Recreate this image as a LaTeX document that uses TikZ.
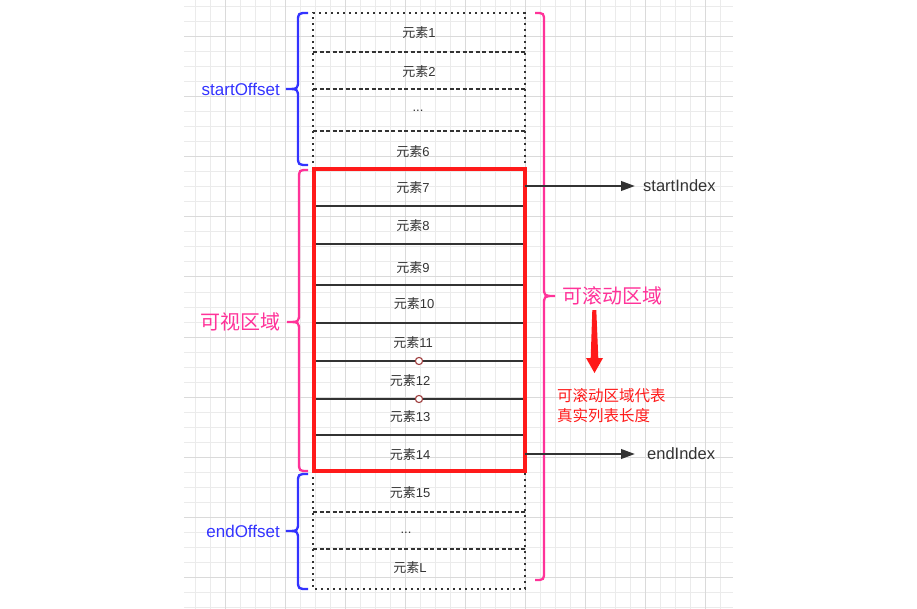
\documentclass[tikz,border=0pt]{standalone}
\usepackage{fontspec}
\setmainfont{Liberation Sans}
\newfontfamily\cjk{Noto Sans CJK SC}
\usetikzlibrary{arrows.meta}

\definecolor{ink}{HTML}{333333}
\definecolor{gridminor}{HTML}{EBEBEB}
\definecolor{gridmajor}{HTML}{DADADA}
\definecolor{offblue}{HTML}{3333FF}
\definecolor{zonepink}{HTML}{FF3399}
\definecolor{boxred}{HTML}{FF1A1A}
\definecolor{knot}{HTML}{A04040}

% element label: Chinese word followed by the index
\newcommand\ys{{\cjk 元素}}

% curly brace: style, end x, spine x, tip x, top y, middle y, bottom y, corner radius
\newcommand\curlybrace[8]{%
  \draw[#1] (#2,#5) .. controls (#3,#5) .. (#3,#5+#8)
    -- (#3,#6-#8) .. controls (#3,#6) .. (#4,#6)
    .. controls (#3,#6) .. (#3,#6+#8)
    -- (#3,#7-#8) .. controls (#3,#7) .. (#2,#7);}

\tikzset{
  minorline/.style={draw=gridminor, line width=1pt},
  majorline/.style={draw=gridmajor, line width=1pt},
  cell/.style={inner sep=0pt, text=ink, font=\fontsize{13}{15}\selectfont},
  dottededge/.style={draw=ink, line width=2.4pt, dash pattern=on 2.2pt off 3.8pt},
  dashededge/.style={draw=ink, line width=2.4pt, dash pattern=on 4pt off 2.5pt},
  rowline/.style={draw=ink, line width=2.4pt},
  viewbox/.style={draw=boxred, line width=3.3pt},
  knotmark/.style={draw=knot, fill=white, line width=1.1pt},
  bluebrace/.style={draw=offblue, line width=2.3pt},
  pinkbrace/.style={draw=zonepink, line width=2.3pt},
  offlabel/.style={inner sep=0pt, text=offblue, font=\fontsize{17}{19}\selectfont},
  zonelabel/.style={inner sep=0pt, text=zonepink, font=\cjk\fontsize{20}{22}\selectfont},
  notelabel/.style={inner sep=0pt, text=boxred, align=left, font=\cjk\fontsize{15.5}{19.5}\selectfont},
  idxlabel/.style={inner sep=0pt, text=ink, font=\fontsize{16.5}{18}\selectfont},
  idxarrow/.style={draw=ink, line width=2.3pt, -{Triangle[length=14pt,width=9.5pt]}},
}

\begin{document}
\begin{tikzpicture}[x=1pt,y=-1pt]
\useasboundingbox (0,0) rectangle (917,609);

% background grid
\foreach \gx in {195,210,...,720} \draw[minorline] (\gx,0) -- (\gx,609);
\foreach \gy in {7,22,...,607} \draw[minorline] (184,\gy) -- (733,\gy);
\foreach \gx in {225,285,...,705} \draw[majorline] (\gx,0) -- (\gx,609);
\foreach \gy in {37,97,...,577} \draw[majorline] (184,\gy) -- (733,\gy);

% off-screen cells above and below the viewport
\draw[dottededge] (313,169) -- (313,13) -- (525,13) -- (525,169);
\draw[dottededge] (313,471) -- (313,589) -- (525,589) -- (525,471);
\foreach \sy in {52,89,131,512,549} \draw[dashededge] (313,\sy) -- (525,\sy);

% visible cells
\foreach \sy in {206,244,285,323,361,399,435} \draw[rowline] (314,\sy) -- (525,\sy);
\draw[viewbox] (314,169) rectangle (525,471);
\draw[knotmark] (419,361) circle (3.6);
\draw[knotmark] (419,399) circle (3.6);

% cell texts
\node[cell] (c1) at (419,33) {\ys 1};
\node[cell] (c2) at (419,71.5) {\ys 2};
\node[cell] (cd1) at (418,111) {...};
\node[cell] (c6) at (413,151.5) {\ys 6};
\node[cell] (c7) at (413,188) {\ys 7};
\node[cell] (c8) at (413,226) {\ys 8};
\node[cell] (c9) at (413,268) {\ys 9};
\node[cell] (c10) at (414,304) {\ys 10};
\node[cell] (c11) at (413,342.5) {\ys 11};
\node[cell] (c12) at (410,381) {\ys 12};
\node[cell] (c13) at (410,416.5) {\ys 13};
\node[cell] (c14) at (410,454.5) {\ys 14};
\node[cell] (c15) at (410,493) {\ys 15};
\node[cell] (cd2) at (406,533) {...};
\node[cell] (cL) at (410,568) {\ys L};

% braces
\curlybrace{bluebrace}{308}{298}{286}{13}{89}{165}{9}
\curlybrace{bluebrace}{308}{298}{286}{474}{531}{589}{9}
\curlybrace{pinkbrace}{308}{299}{287}{170}{322}{471}{9}
\curlybrace{pinkbrace}{535}{544}{555}{13}{296}{580}{9}

% brace labels
\node[offlabel, anchor=east] (so) at (280,89) {startOffset};
\node[offlabel, anchor=east] (eo) at (280,531) {endOffset};
\node[zonelabel, anchor=east] (vis) at (281,322) {可视区域};
\node[zonelabel, anchor=west] (scr) at (562,296) {可滚动区域};

% note under the scroll zone
\fill[boxred] (592.3,310) -- (596.3,310) -- (598.3,358) -- (603,358) -- (594.5,373)
  -- (586,358) -- (590.7,358) -- cycle;
\node[notelabel, anchor=west] (note) at (557,405.5) {可滚动区域代表\\真实列表长度};

% index pointers
\coordinate (p7) at (525,186);
\coordinate (p14) at (525,454);
\node[idxlabel, anchor=west] (sidx) at (643,186) {startIndex};
\node[idxlabel, anchor=west] (eidx) at (647,454) {endIndex};
\draw[idxarrow, shorten >=8pt] (p7) -- (sidx.west);
\draw[idxarrow, shorten >=12pt] (p14) -- (eidx.west);
\end{tikzpicture}
\end{document}
